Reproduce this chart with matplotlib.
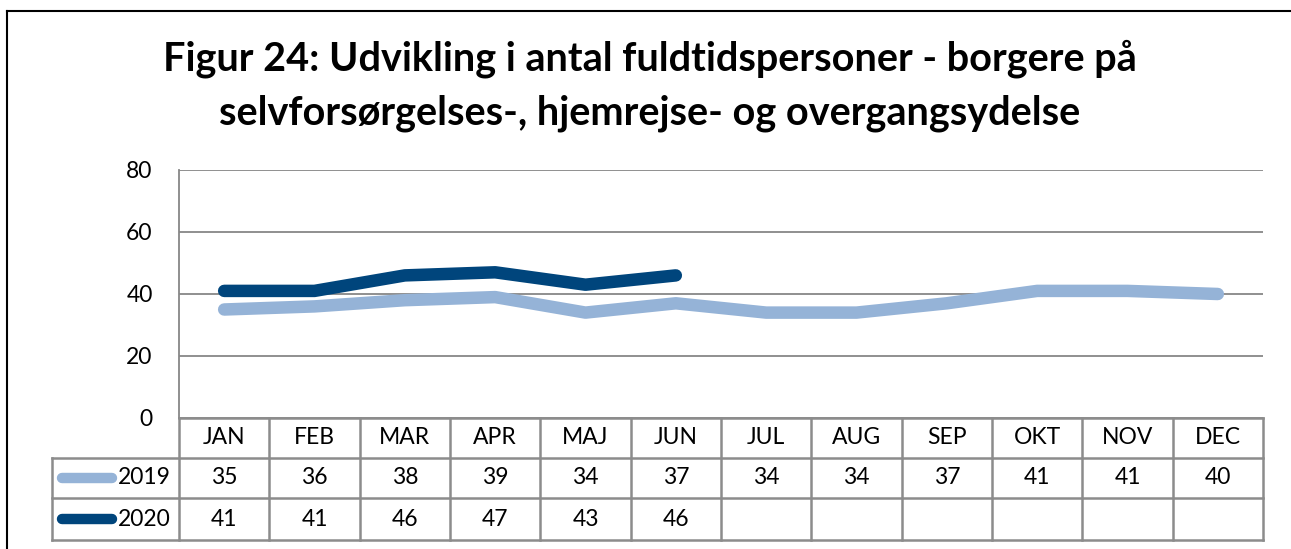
import matplotlib
matplotlib.use('Agg')
import matplotlib.pyplot as plt
from matplotlib.lines import Line2D

# data
months = ['JAN', 'FEB', 'MAR', 'APR', 'MAJ', 'JUN',
          'JUL', 'AUG', 'SEP', 'OKT', 'NOV', 'DEC']
v2019 = [35, 36, 38, 39, 34, 37, 34, 34, 37, 41, 41, 40]
v2020 = [41, 41, 46, 47, 43, 46]
series_names = ['2019', '2020']
yticks = [0, 20, 40, 60, 80]
title = ('Figur 24: Udvikling i antal fuldtidspersoner - borgere på\n'
         'selvforsørgelses-, hjemrejse- og overgangsydelse')

c2019 = '#95B3D7'
c2020 = '#00457C'
grid_c = '#878787'
W, H = 1291, 549

plt.rcParams['font.family'] = ['Lato', 'DejaVu Sans']

fig = plt.figure(figsize=(W / 100, H / 100), dpi=100)

# plot area (pixels -> figure fraction)
x0, x1 = 179, 1263
ytop, ybot = 170, 418
ax = fig.add_axes([x0 / W, 1 - ybot / H, (x1 - x0) / W, (ybot - ytop) / H])

n = len(months)
ax.plot(range(len(v2019)), v2019, color=c2019, lw=9, solid_capstyle='round',
        solid_joinstyle='round', zorder=3)
ax.plot(range(len(v2020)), v2020, color=c2020, lw=9, solid_capstyle='round',
        solid_joinstyle='round', zorder=4)

ax.set_xlim(-0.5, n - 0.5)
ax.set_ylim(0, 80)
ax.set_yticks(yticks)
ax.set_xticks([])
ax.yaxis.grid(True, color=grid_c, lw=1.3)
ax.set_axisbelow(True)
for s in ['top', 'right', 'bottom']:
    ax.spines[s].set_visible(False)
ax.spines['left'].set_color(grid_c)
ax.spines['left'].set_linewidth(1.3)
ax.tick_params(axis='y', length=0, pad=19, labelsize=16.5)

# --------------------------------------------------
# DATA TABLE
# --------------------------------------------------
row_tops = [418, 458, 498, 540]
leg_x0 = 52
cell_w = (x1 - x0) / n


def fx(px):
    return px / W


def fy(py):
    return 1 - py / H


tbl_c = '#8C8C8C'
lw_t = 1.8

# horizontal lines
for i, yy in enumerate(row_tops):
    xs = x0 if i == 0 else leg_x0
    fig.add_artist(Line2D([fx(xs), fx(x1)], [fy(yy), fy(yy)],
                          color=tbl_c, lw=lw_t))
# vertical lines
for j in range(n + 1):
    xx = x0 + j * cell_w
    fig.add_artist(Line2D([fx(xx), fx(xx)], [fy(row_tops[0]), fy(row_tops[-1])],
                          color=tbl_c, lw=lw_t))
fig.add_artist(Line2D([fx(leg_x0), fx(leg_x0)], [fy(row_tops[1]), fy(row_tops[-1])],
                      color=tbl_c, lw=lw_t))

fs_tbl = 16.5
for j, m in enumerate(months):
    cx = x0 + (j + 0.5) * cell_w
    fig.text(fx(cx), fy((row_tops[0] + row_tops[1]) / 2), m,
             ha='center', va='center', fontsize=fs_tbl)
    if j < len(v2019):
        fig.text(fx(cx), fy((row_tops[1] + row_tops[2]) / 2), str(v2019[j]),
                 ha='center', va='center', fontsize=fs_tbl)
    if j < len(v2020):
        fig.text(fx(cx), fy((row_tops[2] + row_tops[3]) / 2), str(v2020[j]),
                 ha='center', va='center', fontsize=fs_tbl)

# legend keys in the table
for k, (name, col) in enumerate(zip(series_names, [c2019, c2020])):
    yc = fy((row_tops[k + 1] + row_tops[k + 2]) / 2)
    fig.add_artist(Line2D([fx(62), fx(112)], [yc, yc], color=col, lw=7.5,
                          solid_capstyle='round'))
    fig.text(fx(171), yc, name, ha='right', va='center', fontsize=fs_tbl)

# outer chart frame (cut off at right and bottom)
fig.add_artist(Line2D([fx(7), fx(W)], [fy(11), fy(11)], color='black', lw=1.5))
fig.add_artist(Line2D([fx(7), fx(7)], [fy(11), 0], color='black', lw=1.5))

fig.text(fx(650), fy(86), title, ha='center', va='center', fontsize=28.5,
         fontweight='bold', linespacing=1.55)

fig.savefig('out.png', dpi=100)
